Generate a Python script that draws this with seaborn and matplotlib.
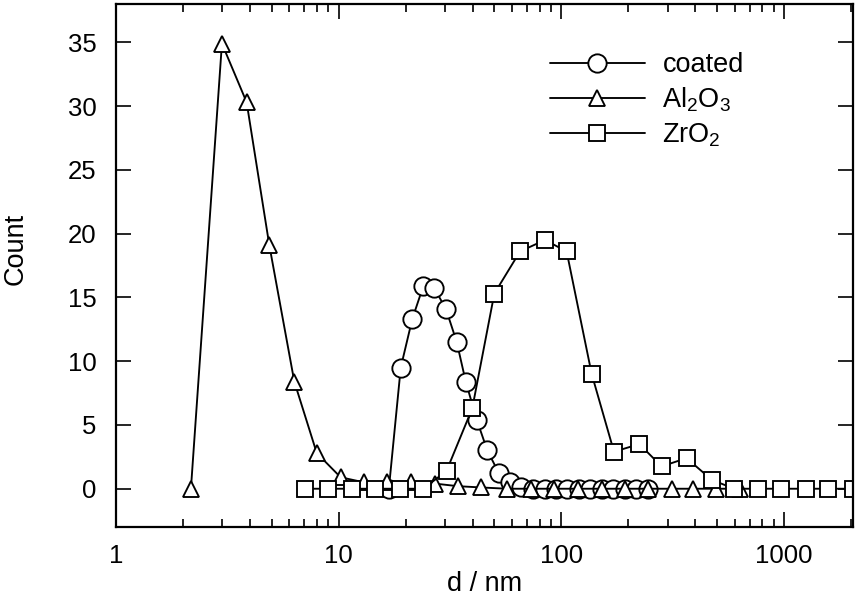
import numpy as np
import pandas as pd
import matplotlib
matplotlib.use("Agg")
import matplotlib.pyplot as plt
import seaborn as sns
from matplotlib.ticker import LogLocator, NullFormatter, FixedLocator


# values
coated_d = [16.8, 19.0, 21.4, 24.0, 26.9, 30.3, 33.9, 37.2, 41.7, 46.5, 52.5, 58.8,
            66.2, 74.6, 84.0, 94.6, 106.5, 120.0, 135.1, 152.2, 171.4, 193.0, 217.4, 244.8]
coated_n = [0.0, 9.5, 13.3, 15.9, 15.7, 14.1, 11.5, 8.4, 5.4, 3.0, 1.2, 0.5,
            0.1, 0.0, 0.0, 0.0, 0.0, 0.0, 0.0, 0.0, 0.0, 0.0, 0.0, 0.0]

al2o3_d = [2.17, 2.99, 3.86, 4.88, 6.32, 7.97, 10.2, 13.0, 16.5, 21.1, 27.1, 34.3,
           43.6, 57.0, 73.0, 92.7, 118.7, 152.2, 193.0, 244.8, 313.8, 389.8, 494.6, 633.9]
al2o3_n = [0.0, 34.9, 30.3, 19.1, 8.4, 2.8, 0.9, 0.5, 0.5, 0.5, 0.4, 0.2,
           0.1, 0.0, 0.0, 0.0, 0.0, 0.0, 0.0, 0.0, 0.0, 0.0, 0.0, 0.0]

zro2_d = [7.06, 9.0, 11.5, 14.6, 18.8, 24.0, 30.5, 39.8, 50.0, 65.2, 84.4, 105.6,
          136.8, 172.3, 223.8, 282.0, 365.0, 473.0, 597.0, 766.0, 968.0, 1254.0, 1579.0, 2046.0]
zro2_n = [0.0, 0.0, 0.0, 0.0, 0.0, 0.0, 1.4, 6.3, 15.3, 18.6, 19.5, 18.6,
          9.0, 2.9, 3.5, 1.75, 2.4, 0.7, 0.0, 0.0, 0.0, 0.0, 0.0, 0.0]

series_names = ["coated", r"Al$_2$O$_3$", r"ZrO$_2$"]
series_markers = ["o", "^", "s"]
y_ticks = [0, 5, 10, 15, 20, 25, 30, 35]


sns.set_theme(style="ticks")
plt.rcParams["font.family"] = ["Liberation Sans", "DejaVu Sans"]
plt.rcParams["mathtext.fontset"] = "custom"
plt.rcParams["mathtext.rm"] = "Liberation Sans"
plt.rcParams["mathtext.it"] = "Liberation Sans:italic"
for key in ["text.color", "axes.labelcolor", "xtick.color", "ytick.color", "axes.edgecolor"]:
    plt.rcParams[key] = "black"


fig = plt.figure(figsize=(8.62, 6.02), dpi=100)
ax = fig.add_axes([116 / 862, 75 / 602, 737 / 862, 523 / 602])

data = [(coated_d, coated_n), (al2o3_d, al2o3_n), (zro2_d, zro2_n)]

for (d, n), name, mk in zip(data, series_names, series_markers):
    df = pd.DataFrame({"d": d, "n": n})
    ms = 13.2 if mk == "o" else (11.0 if mk == "^" else 11.3)
    sns.lineplot(
        data=df, x="d", y="n", ax=ax,
        color="black", lw=1.35,
        marker=mk, markersize=ms,
        markerfacecolor="white", markeredgecolor="black", markeredgewidth=1.35,
        label=name, sort=False, estimator=None
    )

ax.set_xscale("log")
ax.set_xlim(1, 2040)
ax.set_ylim(-3, 38)

ax.yaxis.set_major_locator(FixedLocator(y_ticks))
ax.xaxis.set_major_locator(LogLocator(base=10))
ax.xaxis.set_minor_locator(LogLocator(base=10, subs=np.arange(2, 10)))
ax.xaxis.set_minor_formatter(NullFormatter())
ax.set_xticks([1, 10, 100, 1000])
ax.set_xticklabels(["1", "10", "100", "1000"])

ax.tick_params(which="both", direction="in", top=True, right=True,
               color="black", labelcolor="black", width=1.2, labelsize=18.5)
ax.tick_params(which="major", length=11)
ax.tick_params(which="minor", length=5.5)
ax.tick_params(axis="x", which="major", pad=12)
ax.tick_params(axis="y", which="major", pad=14)

for s in ax.spines.values():
    s.set_linewidth(1.6)
    s.set_color("black")

ax.set_xlabel("d / nm", fontsize=19.5, color="black")
ax.set_ylabel("Count", fontsize=19.5, color="black")
ax.xaxis.set_label_coords(0.5, -0.085)
ax.yaxis.set_label_coords(-0.118, 0.532)

leg = ax.legend(
    loc="upper left", bbox_to_anchor=(0.589, 0.908),
    frameon=False, fontsize=19.5, handlelength=3.5, handletextpad=0.65,
    borderpad=0, borderaxespad=0, labelspacing=0.28, numpoints=1
)
for t in leg.get_texts():
    t.set_color("black")

fig.savefig("out.png", dpi=100)
plt.close(fig)
